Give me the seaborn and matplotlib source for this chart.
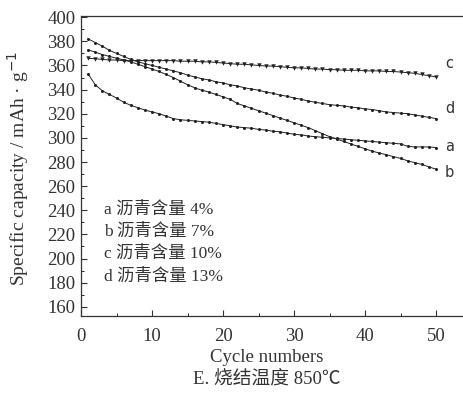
import numpy as np
import pandas as pd
import matplotlib
matplotlib.use("Agg")
import matplotlib.pyplot as plt
import seaborn as sns
from matplotlib.ticker import MultipleLocator

cycles = list(range(1, 51))
series_a = [353, 344, 339, 336, 333, 329.5, 327, 325, 323, 321.5,
            320, 318, 316, 315, 314.5, 314, 313.5, 313, 312, 311,
            310, 309, 308.5, 308, 307, 306.5, 305.5, 305, 304, 303,
            302.5, 301.5, 301, 300.5, 300, 299.5, 299, 298.5, 298, 297.5,
            297, 296.5, 296, 295.5, 295, 293, 292.5, 292.5, 292.5, 292]
series_b = [373, 371, 369, 367.5, 366, 364.5, 363, 361, 359, 357,
            355, 352.5, 350, 347, 344, 341.5, 339.5, 338, 336, 334,
            332, 328.5, 326.5, 324.5, 322.5, 320.5, 318.5, 316.5, 314.5, 312.5,
            310.5, 308.5, 306, 303.5, 301, 299, 297, 295, 293, 291,
            289, 287.5, 286, 284.5, 283, 281, 279.5, 278, 276, 274]
series_c = [366, 365.5, 365, 364.5, 364.5, 364, 364, 364, 364, 364,
            364, 364, 364, 363.5, 363.5, 363.5, 363, 363, 362.5, 362,
            361.5, 361, 361, 360.5, 360, 359.5, 359.5, 359, 358.5, 358,
            358, 357.5, 357, 357, 356.5, 356.5, 356, 356, 356, 355.5,
            355.5, 355.5, 355, 355, 354.5, 354, 353.5, 352.5, 351.5, 350.5]
series_d = [382, 379, 376, 372.5, 370, 367.5, 365, 363, 361.5, 360,
            358.5, 357, 355.5, 354, 352, 350.5, 349, 348, 346.5, 345.5,
            344, 343, 341.5, 340.5, 339.5, 338, 337, 335.5, 334.5, 333,
            332, 330.5, 329.5, 328.5, 327.5, 327, 326.5, 325.5, 325, 324,
            323.5, 322.5, 321.5, 321, 320.5, 320, 319, 318, 317, 316]
curve_names = ["a", "b", "c", "d"]
legend_lines = ["a 沥青含量 4%", "b 沥青含量 7%", "c 沥青含量 10%", "d 沥青含量 13%"]
x_ticks = [0, 10, 20, 30, 40, 50]
y_ticks = list(range(160, 401, 20))

sns.set_style("ticks")
plt.rcParams['font.family'] = ['Liberation Serif', 'Noto Sans CJK SC', 'DejaVu Sans']
plt.rcParams['xtick.direction'] = 'in'
plt.rcParams['ytick.direction'] = 'in'

df = pd.DataFrame({
    "cycle": cycles * 4,
    "capacity": series_a + series_b + series_c + series_d,
    "curve": sum([[n] * len(cycles) for n in curve_names], []),
})

fig = plt.figure(figsize=(4.63, 4.05), dpi=100)
ax = fig.add_axes([0.175, 0.220, 0.825, 0.740])

markers = {"a": "o", "b": "o", "c": "v", "d": "o"}
sizes = {"a": 2.2, "b": 2.2, "c": 3.2, "d": 2.2}
for n in curve_names:
    sub = df[df.curve == n]
    sns.lineplot(data=sub, x="cycle", y="capacity", ax=ax, color="#222222",
                 lw=0.7, marker=markers[n], markersize=sizes[n],
                 markeredgewidth=0, legend=False)

ax.set_xlim(0, 53.8)
ax.set_ylim(152.5, 400.8)
ax.set_xticks(x_ticks)
ax.set_yticks(y_ticks)
ax.xaxis.set_minor_locator(MultipleLocator(5))
ax.yaxis.set_minor_locator(MultipleLocator(10))
ax.tick_params(which='major', length=4, width=0.8, labelsize=13.5, colors='#333333',
               top=False, right=False)
ax.tick_params(axis='x', which='major', pad=9)
ax.tick_params(axis='y', which='major', pad=4)
ax.tick_params(which='minor', length=2, width=0.7, top=False, right=False)
for s in ["left", "bottom", "top"]:
    ax.spines[s].set_linewidth(0.9)
    ax.spines[s].set_color("#333333")
ax.spines["right"].set_visible(False)
ax.set_xlabel("")
ax.set_ylabel("")
fig.text(266.7 / 463, 1 - 358 / 405, "Cycle numbers", ha="center", va="center",
         fontsize=13.5, color='#333333')
fig.text(0.039, 0.585, "Specific capacity / mAh · g$^{-1}$", rotation=90,
         ha="center", va="center", fontsize=14, color='#333333')

ends = {"a": series_a[-1], "b": series_b[-1], "c": series_c[-1], "d": series_d[-1]}
label_y = {"c": ends["c"] + 11, "d": ends["d"] + 8.5, "a": ends["a"] + 1, "b": ends["b"] - 3}
for n in curve_names:
    ax.text(51.9, label_y[n], n, fontsize=10.5, family="DejaVu Sans",
            ha="center", va="center", color="#333333")

for i, t in enumerate(legend_lines):
    ax.text(3.3, 241 - i * 18.6, t, fontsize=12.5, ha="left", va="center",
            color="#333333")

fig.text(0.577, 1 - 380 / 405, "E. 烧结温度 850℃", ha="center", va="center",
         fontsize=13.5, color='#333333')

fig.savefig("out.png", dpi=100, facecolor="white")
